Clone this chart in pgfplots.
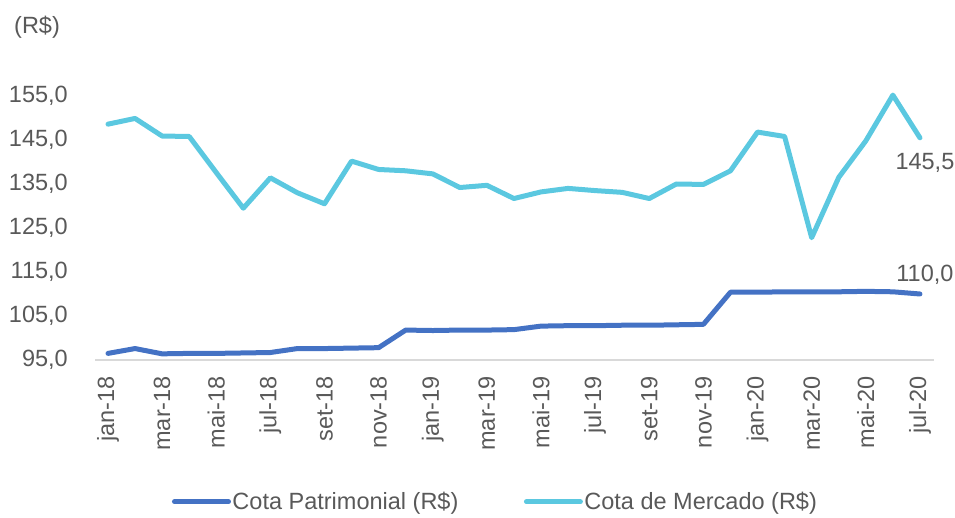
\documentclass[border=0pt]{standalone}
\usepackage{pgfplots}
\pgfplotsset{compat=1.18}
\usepackage{fontspec}
\setmainfont{Liberation Sans}
\definecolor{txt}{HTML}{595959}
\definecolor{patr}{HTML}{4472C4}
\definecolor{merc}{HTML}{5BC8E0}
\definecolor{axl}{HTML}{D9D9D9}
\begin{document}
\begin{tikzpicture}[font=\fontsize{23.5}{27}\selectfont]
\useasboundingbox (0,0) rectangle (955pt,518pt);
\begin{axis}[
  at={(95pt,158pt)}, anchor=south west,
  scale only axis, width=839pt, height=294.8pt,
  xmin=-0.48, xmax=30.52, ymin=95, ymax=162,
  clip=false,
  axis x line*=bottom, axis y line*=left,
  x axis line style={draw=axl, line width=1.5pt},
  y axis line style={draw=none},
  major tick length=0pt, tick style={draw=none},
  xtick={0,2,...,30},
  xticklabels={jan-18,mar-18,mai-18,jul-18,set-18,nov-18,jan-19,mar-19,mai-19,jul-19,set-19,nov-19,jan-20,mar-20,mai-20,jul-20},
  xticklabel style={rotate=90, anchor=east, inner sep=0pt, xshift=-16pt, text=txt, font=\fontsize{23.5}{27}\selectfont},
  ytick={95,105,...,155},
  yticklabel style={anchor=east, inner sep=0pt, xshift=-27pt, text=txt, font=\fontsize{23.5}{27}\selectfont,
    /pgf/number format/.cd, fixed, fixed zerofill, precision=1, use comma, 1000 sep={}, assume math mode=true},
  legend columns=2,
  legend style={at={(0.477,-0.481)}, anchor=center, draw=none, fill=none, inner sep=0pt,
    text=txt, font=\fontsize{23.5}{27}\selectfont,
    /tikz/every even column/.append style={column sep=64pt},
    nodes={inner sep=1.5pt}},
  legend image code/.code={\draw[#1, line width=5pt, line cap=round] (0pt,0pt) -- (54pt,0pt);},
]
\addplot[patr, line width=5pt, line join=round, line cap=round] coordinates {
(0,96.5)(1,97.6)(2,96.4)(3,96.5)(4,96.5)(5,96.6)(6,96.7)(7,97.6)(8,97.6)(9,97.7)
(10,97.8)(11,101.8)(12,101.7)(13,101.8)(14,101.8)(15,101.9)(16,102.7)(17,102.8)(18,102.8)(19,102.9)
(20,102.9)(21,103.0)(22,103.1)(23,110.4)(24,110.4)(25,110.5)(26,110.5)(27,110.5)(28,110.6)(29,110.5)
(30,110.0)};
\addlegendentry{Cota Patrimonial (R\$)}
\addplot[merc, line width=5pt, line join=round, line cap=round] coordinates {
(0,148.6)(1,149.9)(2,145.9)(3,145.8)(4,137.6)(5,129.5)(6,136.4)(7,133.0)(8,130.5)(9,140.2)
(10,138.3)(11,138.0)(12,137.3)(13,134.2)(14,134.7)(15,131.7)(16,133.2)(17,134.0)(18,133.5)(19,133.1)
(20,131.7)(21,135.0)(22,134.9)(23,138.0)(24,146.8)(25,145.8)(26,122.8)(27,136.5)(28,144.8)(29,155.2)
(30,145.5)};
\addlegendentry{Cota de Mercado (R\$)}
\node[text=txt, inner sep=0pt, anchor=center, xshift=5pt, yshift=-25pt] at (axis cs:30,145.5) {145,5};
\node[text=txt, inner sep=0pt, anchor=center, xshift=5pt, yshift=19pt] at (axis cs:30,110.0) {110,0};
\end{axis}
\node[text=txt, inner sep=0pt, anchor=west] at (14pt,491pt) {(R\$)};
\end{tikzpicture}
\end{document}
